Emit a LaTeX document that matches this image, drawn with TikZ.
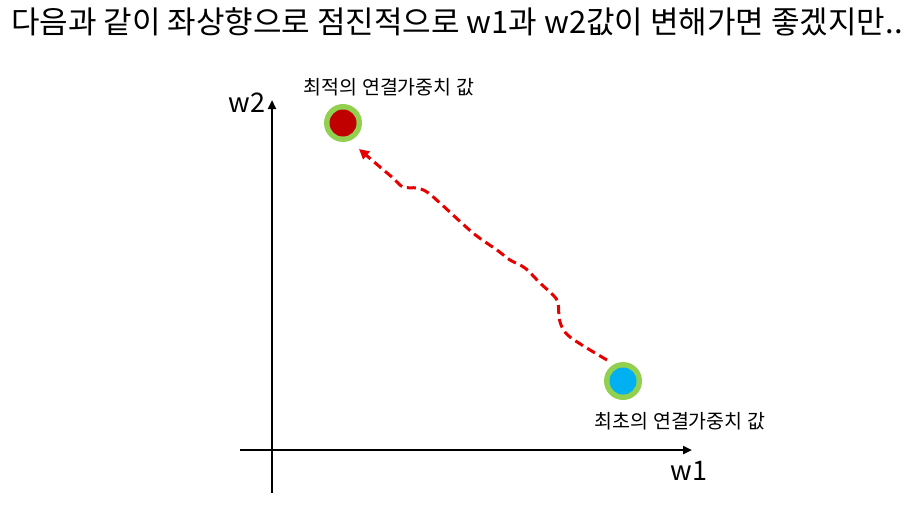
\documentclass[tikz,border=0pt]{standalone}
\usepackage{fontspec}
\setmainfont{Noto Sans CJK KR}
\usetikzlibrary{arrows.meta}
\definecolor{ringgreen}{HTML}{92D050}
\definecolor{optred}{HTML}{C00000}
\definecolor{initblue}{HTML}{00B0F0}
\definecolor{pathred}{HTML}{E60000}
\tikzset{
  axis/.style={line width=2.4pt, black, -{Triangle[length=9pt,width=8pt]}},
  ring/.style={circle, fill=ringgreen, minimum size=38pt, inner sep=0pt},
  lbl/.style={font=\fontsize{19.5}{22}\selectfont, inner sep=0pt},
  axlbl/.style={font=\fontsize{27}{30}\selectfont, inner sep=0pt},
  pathline/.style={line width=3pt, pathred, dash pattern=on 9pt off 5pt, -{Triangle[length=10pt,width=10pt]}}
}
\begin{document}
\begin{tikzpicture}[x=1pt,y=-1pt]
\useasboundingbox (0,0) rectangle (907,506);
\node[anchor=west, inner sep=0pt, font=\fontsize{31}{34}\selectfont] (title) at (11,22) {다음과 같이 좌상향으로 점진적으로 w1과 w2값이 변해가면 좋겠지만..};
% axes
\coordinate (xs) at (240,450);
\coordinate (xe) at (692,450);
\coordinate (ys) at (272,493);
\coordinate (ye) at (272,100);
\draw[axis] (xs) -- (xe);
\draw[axis] (ys) -- (ye);
\node[axlbl] (w2) at (247,103) {w2};
\node[axlbl] (w1) at (689,471) {w1};
% points
\node[ring] (opt) at (343,123) {};
\fill[optred] (opt.center) circle (13.5pt);
\node[ring] (init) at (623,381) {};
\fill[initblue] (init.center) circle (13.5pt);
\node[lbl] (optl) at (389,87) {최적의 연결가중치 값};
\node[lbl] (initl) at (680,421) {최초의 연결가중치 값};
% path
\draw[pathline] plot[smooth, tension=0.55] coordinates {(607,360) (570,337) (560,322) (558,303) (553,295) (540,283) (525,268) (510,260) (497,250) (473,233) (440,203) (427,192) (417,188) (403,187) (393,178) (380,167) (359,149)};
\end{tikzpicture}
\end{document}
